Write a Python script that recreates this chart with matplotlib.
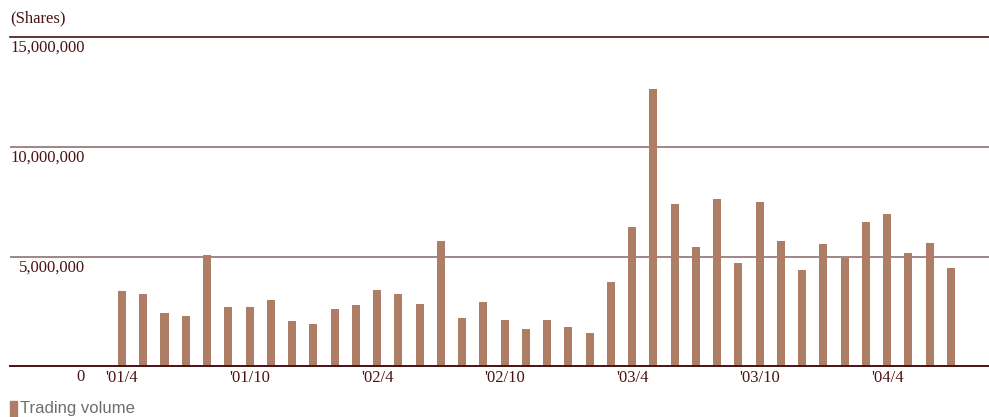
import matplotlib
matplotlib.use("Agg")
import matplotlib.pyplot as plt
import numpy as np

# Monthly trading volume, April 2001 - July 2004 (shares)
months = [
    "'01/4", "'01/5", "'01/6", "'01/7", "'01/8", "'01/9", "'01/10", "'01/11", "'01/12",
    "'02/1", "'02/2", "'02/3", "'02/4", "'02/5", "'02/6", "'02/7", "'02/8", "'02/9",
    "'02/10", "'02/11", "'02/12", "'03/1", "'03/2", "'03/3", "'03/4", "'03/5", "'03/6",
    "'03/7", "'03/8", "'03/9", "'03/10", "'03/11", "'03/12", "'04/1", "'04/2", "'04/3",
    "'04/4", "'04/5", "'04/6", "'04/7",
]
volume = [
    3420000, 3280000, 2420000, 2290000, 5060000, 2700000, 2700000, 3010000, 2060000,
    1920000, 2610000, 2790000, 3470000, 3290000, 2830000, 5700000, 2200000, 2920000,
    2110000, 1700000, 2110000, 1790000, 1520000, 3830000, 6330000, 12650000, 7380000,
    5420000, 7600000, 4700000, 7470000, 5700000, 4380000, 5560000, 4940000, 6560000,
    6920000, 5150000, 5600000, 4470000,
]
labelled_months = ["'01/4", "'01/10", "'02/4", "'02/10", "'03/4", "'03/10", "'04/4"]
y_ticks = [0, 5000000, 10000000, 15000000]
y_tick_labels = ["0", "5,000,000", "10,000,000", "15,000,000"]

BAR = "#ad7d66"
DARK = "#4a1212"
GRID = "#8f7274"
SERIF = ["Liberation Serif", "DejaVu Serif"]

W, H = 989, 417
fig = plt.figure(figsize=(W / 100, H / 100), dpi=100)
left_px, right_px = 10, 989
zero_px, top_px = 366.3, 37
ax = fig.add_axes([left_px / W, (H - zero_px) / H,
                   (right_px - left_px) / W, (zero_px - top_px) / H])

x = np.arange(len(volume))
ax.bar(x, volume, width=0.38, color=BAR, zorder=3)

ax.set_xlim(-5.27, 40.79)
ax.set_ylim(0, 15000000)

for s in ax.spines.values():
    s.set_visible(False)
ax.set_xticks([])
ax.set_yticks([])

# horizontal rules
ax.axhline(15000000, color=DARK, lw=1.2, zorder=2, clip_on=False)
for v in (5000000, 10000000):
    ax.axhline(v, color=GRID, lw=1.2, zorder=2)
ax.axhline(0, color=DARK, lw=1.4, zorder=4, clip_on=False)

# y labels sit right-aligned just below each rule
ytr = ax.get_yaxis_transform()
lab_x = (85 - left_px) / (right_px - left_px)
for v, t in zip(y_ticks, y_tick_labels):
    ax.annotate(t, xy=(lab_x, v), xycoords=ytr, xytext=(0, -3),
                textcoords="offset pixels", ha="right", va="top",
                fontsize=12, family=SERIF, color=DARK)

# month labels under selected bars
for m in labelled_months:
    i = months.index(m)
    ax.annotate(m, xy=(i, 0), xycoords=("data", "data"), xytext=(0, -4),
                textcoords="offset pixels", ha="center", va="top",
                fontsize=12, family=SERIF, color=DARK)

fig.text(10 / W, 1 - 18 / H, "(Shares)", ha="left", va="center",
         fontsize=12, family=SERIF, color=DARK)

# legend swatch and caption
fig.patches.append(plt.Rectangle((10 / W, 0), 7 / W, 16 / H,
                                 transform=fig.transFigure, color=BAR))
fig.text(20 / W, 1 - 408 / H, "Trading volume", ha="left", va="center",
         fontsize=12, family=["Liberation Sans", "DejaVu Sans"], color="#6e6e6e")

fig.savefig("out.png", dpi=100)
